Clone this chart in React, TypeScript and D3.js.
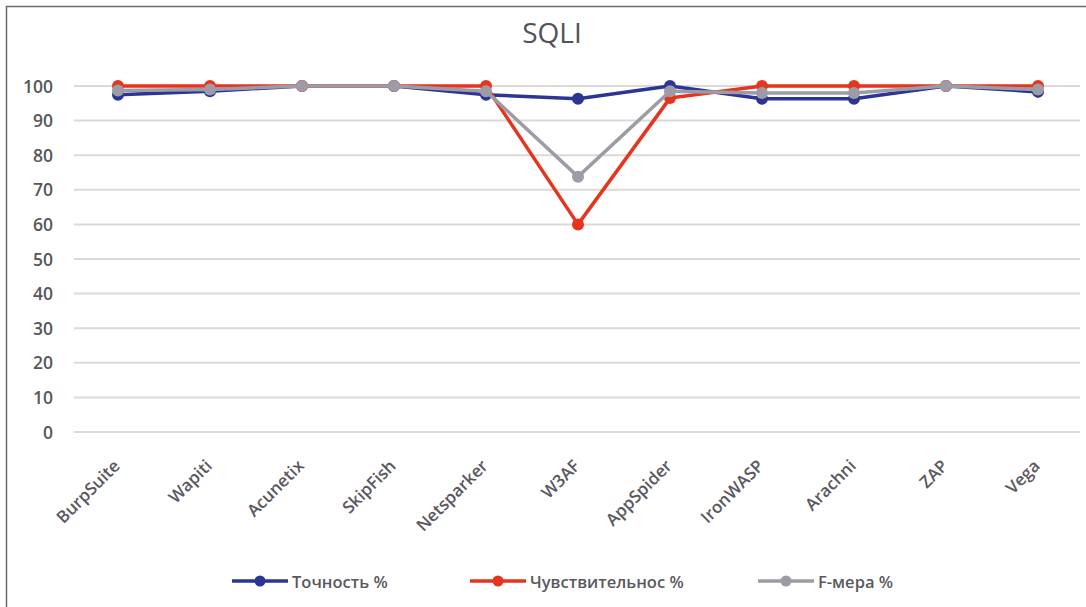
import React from "react";
import * as d3 from "d3";

const categories = ["BurpSuite", "Wapiti", "Acunetix", "SkipFish", "Netsparker", "W3AF", "AppSpider", "IronWASP", "Arachni", "ZAP", "Vega"];
const precision = [97.5, 98.5, 100, 100, 97.5, 96.3, 100, 96.3, 96.3, 100, 98.3];
const sensitivity = [100, 100, 100, 100, 100, 60, 96.5, 100, 100, 100, 100];
const fMeasure = [98.7, 99, 100, 100, 98.5, 73.8, 98.5, 98, 98, 100, 99];
const yTicks = [0, 10, 20, 30, 40, 50, 60, 70, 80, 90, 100];

const seriesNames = ["Точность %", "Чувствительнос %", "F-мера %"];
const seriesData = [precision, sensitivity, fMeasure];
const colors = ["#2c3594", "#e5341f", "#9d9ca6"];
const legendX = [232, 470, 758];

const W = 1086;
const H = 607;
const FONT = "'Open Sans', 'Noto Sans', sans-serif";

export default function App() {
  const x = d3.scaleBand<string>().domain(categories).range([72, 1084]);
  const y = d3.scaleLinear().domain([0, 100]).range([432, 86]);
  const cx = (c: string) => (x(c) as number) + x.bandwidth() / 2;
  const line = d3
    .line<number>()
    .x((_, i) => cx(categories[i]))
    .y((d) => y(d));

  return (
    <svg width={W} height={H} style={{ position: "absolute", left: 0, top: 0, background: "#fff" }}>
      <rect x={0} y={0} width={W} height={H} fill="#fff" />
      <line x1={6.5} y1={6} x2={6.5} y2={H} stroke="#6b6b6b" strokeWidth={1.5} />
      <line x1={6} y1={6.5} x2={W} y2={6.5} stroke="#6b6b6b" strokeWidth={1.5} />
      <text x={552} y={43} textAnchor="middle" fontFamily={FONT} fontSize={28} fill="#555058">
        SQLI
      </text>
      {yTicks.map((t) => (
        <g key={t}>
          <line x1={74} x2={1080} y1={y(t)} y2={y(t)} stroke="#dcd9d8" strokeWidth={2} />
          <text x={53} y={y(t) + 6.5} textAnchor="end" fontFamily={FONT} fontSize={17.5} fontWeight={600} fill="#58565c">
            {t}
          </text>
        </g>
      ))}
      {categories.map((c) => (
        <text
          key={c}
          transform={`translate(${cx(c) + 3},${467}) rotate(-45)`}
          textAnchor="end"
          fontFamily={FONT}
          fontSize={17}
          fontWeight={600}
          fill="#5a585e"
        >
          {c}
        </text>
      ))}
      {seriesData.map((s, k) => (
        <g key={k}>
          <path d={line(s) as string} fill="none" stroke={colors[k]} strokeWidth={3.5} strokeLinejoin="round" />
          {s.map((v, i) => (
            <circle key={i} cx={cx(categories[i])} cy={y(v)} r={6} fill={colors[k]} />
          ))}
        </g>
      ))}
      {seriesNames.map((n, k) => (
        <g key={n}>
          <line x1={legendX[k]} x2={legendX[k] + 56} y1={581} y2={581} stroke={colors[k]} strokeWidth={3.5} />
          <circle cx={legendX[k] + 28} cy={581} r={5.5} fill={colors[k]} />
          <text x={legendX[k] + 60} y={587.5} fontFamily={FONT} fontSize={16.5} fontWeight={600} fill="#5a585e">
            {n}
          </text>
        </g>
      ))}
    </svg>
  );
}
